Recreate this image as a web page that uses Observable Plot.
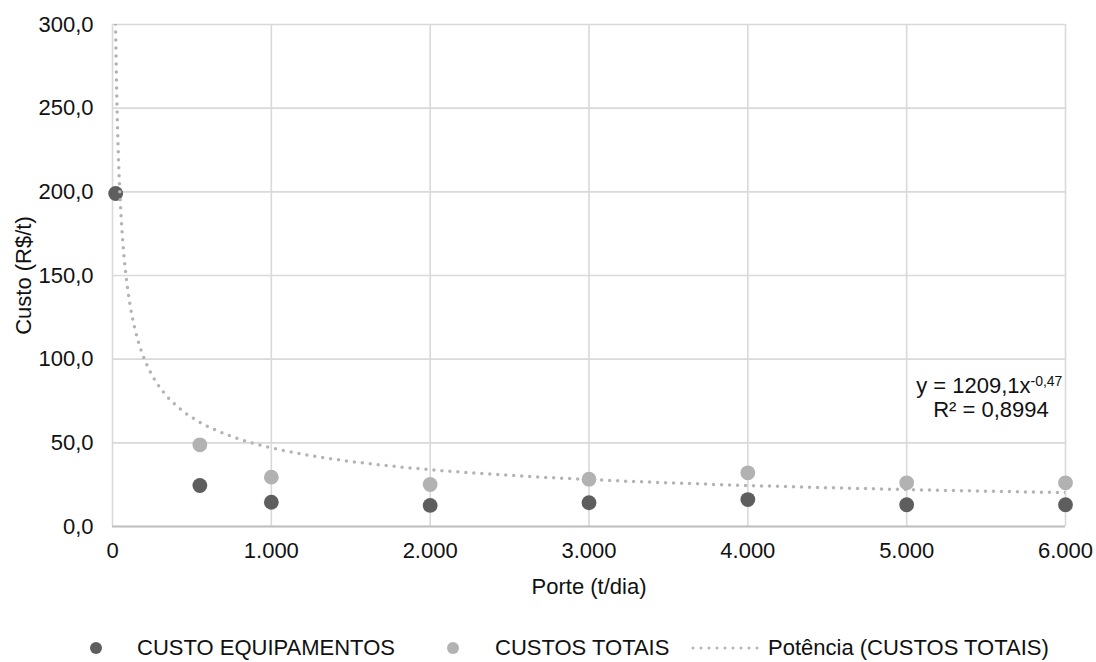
<!DOCTYPE html>
<html>
<head>
<meta charset="utf-8">
<script src="https://cdn.jsdelivr.net/npm/d3@7"></script>
<script src="https://cdn.jsdelivr.net/npm/@observablehq/plot@0.6"></script>
<style>
  html, body { margin: 0; padding: 0; background: #fff; }
  body { font-family: "Liberation Sans", Arial, sans-serif; color: #111; width: 1096px; height: 662px; overflow: hidden; }
  #legend { position: relative; width: 1096px; height: 47px; font-size: 22px; }
  #legend .item { position: absolute; top: 33px; transform: translateY(-50%); display: flex; align-items: center; white-space: nowrap; }
  #legend .dot { width: 12px; height: 12px; border-radius: 50%; }
</style>
</head>
<body>
<div id="chart"></div>
<div id="legend"></div>
<script>
// ---- data ----
const porteEquip = [20, 550, 1000, 2000, 3000, 4000, 5000, 6000];
const custoEquipamentos = [199, 24.5, 14.5, 12.6, 14.2, 16.1, 13.0, 13.0];
const porteTotais = [550, 1000, 2000, 3000, 4000, 5000, 6000];
const custosTotais = [48.8, 29.5, 25.1, 28.3, 32.1, 26.1, 26.1];
// power trendline shown on chart: y = 1209,1 x^-0,47
const trendCoef = 1209.1;
const trendExp = -0.47;
const trendRange = [15, 6000];
const xTicks = [0, 1000, 2000, 3000, 4000, 5000, 6000];
const yTicks = [0, 50, 100, 150, 200, 250, 300];
const seriesNames = ["CUSTO EQUIPAMENTOS", "CUSTOS TOTAIS", "Potência (CUSTOS TOTAIS)"];
const eqMain = "y = 1209,1x";
const eqExp = "-0,47";
const eqR2 = "R² = 0,8994";

// ---- build ----
const colDark = "#5e5e5e", colLight = "#b2b2b2", colTrend = "#b4b4b4";
const loc = d3.formatLocale({decimal: ",", thousands: ".", grouping: [3], currency: ["R$", ""]});
const fx = loc.format(",.0f");
const fy = loc.format(",.1f");

const equip = porteEquip.map((x, i) => ({x, y: custoEquipamentos[i]}));
const totais = porteTotais.map((x, i) => ({x, y: custosTotais[i]}));
const trendX = d3.range(0, 401).map(i => Math.exp(Math.log(trendRange[0]) + i / 400 * (Math.log(trendRange[1]) - Math.log(trendRange[0]))));
const trend = trendX.map(x => ({x, y: trendCoef * Math.pow(x, trendExp)}));

const chart = Plot.plot({
  width: 1096,
  height: 615,
  marginLeft: 112,
  marginRight: 31,
  marginTop: 24,
  marginBottom: 89,
  style: {fontFamily: "'Liberation Sans', Arial, sans-serif", fontSize: "22px", color: "#111", background: "#fff"},
  x: {domain: [0, 6000]},
  y: {domain: [0, 300]},
  marks: [
    Plot.gridX(xTicks, {stroke: "#d9d9d9", strokeOpacity: 1, strokeWidth: 1.6}),
    Plot.gridY(yTicks, {stroke: "#d9d9d9", strokeOpacity: 1, strokeWidth: 1.6}),
    Plot.ruleY([0], {stroke: "#bfbfbf", strokeWidth: 2}),
    Plot.axisX(xTicks, {tickSize: 0, tickPadding: 16, tickFormat: fx, label: "Porte (t/dia)", labelAnchor: "center", labelArrow: "none", labelOffset: 67}),
    Plot.axisY(yTicks, {tickSize: 0, tickPadding: 19, tickFormat: fy, label: "Custo (R$/t)", labelAnchor: "center", labelArrow: "none", labelOffset: 97}),
    Plot.dot(totais, {x: "x", y: "y", r: 7.4, fill: colLight}),
    Plot.dot(equip, {x: "x", y: "y", r: 7.4, fill: colDark}),
    Plot.line(trend, {x: "x", y: "y", stroke: colTrend, strokeWidth: 3.5, strokeDasharray: "0 8", strokeLinecap: "round", clip: true}),
    Plot.text([eqMain], {text: d => d, frameAnchor: "top-right", dx: -35, dy: 361, textAnchor: "end", lineAnchor: "middle", fill: "#111", fontSize: 22}),
    Plot.text([eqExp], {text: d => d, frameAnchor: "top-right", dx: -35, dy: 357, textAnchor: "start", lineAnchor: "middle", fill: "#111", fontSize: 14}),
    Plot.text([eqR2], {text: d => d, frameAnchor: "top-right", dx: -74.5, dy: 385, textAnchor: "middle", lineAnchor: "middle", fill: "#111", fontSize: 22})
  ]
});
document.getElementById("chart").appendChild(chart);

// ---- legend ----
const legend = d3.select("#legend");
const dotItem = (left, color) => legend.append("div").attr("class", "item").style("left", left + "px")
  .append("div").attr("class", "dot").style("background", color);
dotItem(90, colDark);
legend.append("div").attr("class", "item").style("left", "137px").text(seriesNames[0]);
dotItem(447, colLight);
legend.append("div").attr("class", "item").style("left", "495px").text(seriesNames[1]);
const li = legend.append("div").attr("class", "item").style("left", "691px");
const s = li.append("svg").attr("width", 72).attr("height", 10);
s.append("line").attr("x1", 2).attr("x2", 69).attr("y1", 5).attr("y2", 5)
  .attr("stroke", colTrend).attr("stroke-width", 3).attr("stroke-dasharray", "0 8").attr("stroke-linecap", "round");
legend.append("div").attr("class", "item").style("left", "768px").text(seriesNames[2]);
</script>
</body>
</html>
